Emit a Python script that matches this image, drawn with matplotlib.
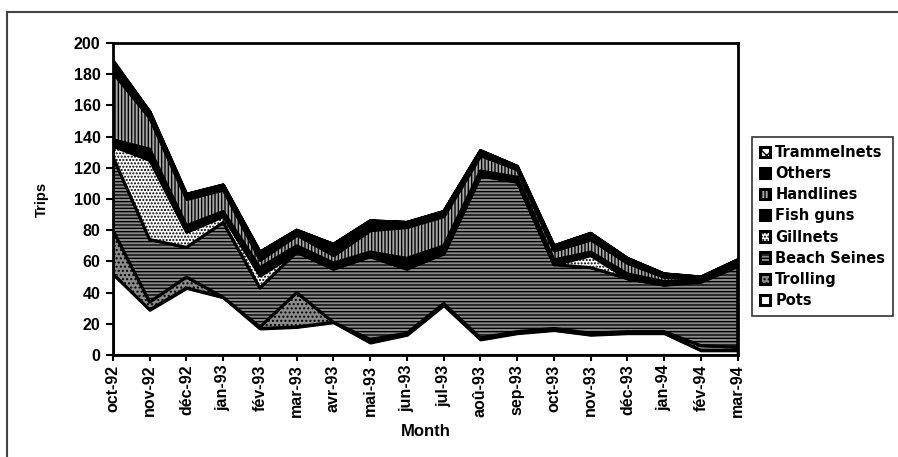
"""Monthly fishing trips by gear type, stacked area chart (oct-92 to mar-94)."""

import matplotlib

matplotlib.use("Agg")
import matplotlib.pyplot as plt
from matplotlib.lines import Line2D
import numpy as np

plt.rcParams["font.family"] = ["Liberation Sans", "DejaVu Sans"]
plt.rcParams["hatch.linewidth"] = 1.0

MONTHS = [
    "oct-92", "nov-92", "déc-92", "jan-93", "fév-93", "mar-93", "avr-93",
    "mai-93", "jun-93", "jul-93", "aoû-93", "sep-93", "oct-93", "nov-93",
    "déc-93", "jan-94", "fév-94", "mar-94",
]

# trips per gear, bottom of the stack first
POTS = [52, 29, 43, 37, 17, 18, 21, 8, 13, 32, 10, 14, 16, 13, 14, 14, 3, 3]
TROLLING = [28, 5, 7, 0, 1, 22, 0, 2, 1, 1, 1, 1, 1, 1, 1, 1, 3, 2]
BEACH_SEINES = [47, 40, 19, 48, 25, 26, 34, 53, 41, 32, 104, 96, 41, 42, 34, 30, 41, 52]
GILLNETS = [7, 51, 10, 4, 8, 0, 1, 1, 1, 0, 0, 0, 0, 8, 0, 0, 0, 0]
FISH_GUNS = [4, 7, 4, 3, 5, 4, 3, 2, 6, 5, 3, 3, 3, 2, 3, 2, 1, 1]
HANDLINES = [43, 20, 17, 14, 5, 7, 5, 14, 20, 19, 10, 5, 6, 8, 7, 3, 1, 1]
OTHERS = [7, 4, 3, 3, 5, 3, 7, 6, 3, 3, 3, 2, 3, 4, 3, 2, 1, 2]
TRAMMELNETS = [1, 0, 0, 0, 0, 0, 0, 0, 0, 0, 0, 0, 0, 0, 0, 0, 0, 0]

LABELS = ["Pots", "Trolling", "Beach Seines", "Gillnets",
          "Fish guns", "Handlines", "Others", "Trammelnets"]
FACES = ["white", "#8c8c8c", "#8a8a8a", "white",
         "black", "#a8a8a8", "black", "white"]
HATCHES = [None, "....", "-----", ".....", None, "|||||", None, "xxx"]


def main() -> None:
    fig = plt.figure(figsize=(8.98, 4.57), dpi=100)
    ax = fig.add_axes([0.1258, 0.2232, 0.6957, 0.6827])

    x = np.arange(len(MONTHS))
    series = [POTS, TROLLING, BEACH_SEINES, GILLNETS,
              FISH_GUNS, HANDLINES, OTHERS, TRAMMELNETS]
    polys = ax.stackplot(x, *series, labels=LABELS, colors=FACES,
                         edgecolor="black", linewidth=2.2)
    for poly, hatch in zip(polys, HATCHES):
        if hatch:
            poly.set_hatch(hatch)

    ax.set_xlim(0, len(MONTHS) - 1)
    ax.set_ylim(0, 200)
    ax.set_yticks(range(0, 201, 20))
    ax.set_xticks(x)
    ax.set_xticklabels(MONTHS, rotation=90, fontsize=11.5, fontweight="bold")
    for lab in ax.get_yticklabels():
        lab.set_fontsize(11.5)
        lab.set_fontweight("bold")
    ax.tick_params(axis="y", length=5, width=1.5, pad=4)
    ax.tick_params(axis="x", length=4, width=1.5, pad=3)
    for spine in ax.spines.values():
        spine.set_linewidth(2)

    ax.set_ylabel("Trips", fontsize=10.5, fontweight="bold", labelpad=18)
    ax.set_xlabel("Month", fontsize=12, fontweight="bold", labelpad=5)

    handles, labels = ax.get_legend_handles_labels()
    leg = fig.legend(handles[::-1], labels[::-1], loc="upper left",
                     bbox_to_anchor=(0.8374, 0.7002), frameon=True,
                     fancybox=False, edgecolor="black", handlelength=0.7,
                     handleheight=0.7, handletextpad=0.35, labelspacing=0.42,
                     borderpad=0.55, borderaxespad=0,
                     prop={"family": "DejaVu Sans", "size": 10.5,
                           "weight": "bold"})
    leg.get_frame().set_linewidth(1.2)

    # outer frame of the scanned figure
    fig.add_artist(Line2D([0.008, 1.0], [0.974, 0.974], color="#444444",
                          lw=1.5, transform=fig.transFigure))
    fig.add_artist(Line2D([0.008, 0.008], [0.0, 0.974], color="#444444",
                          lw=1.5, transform=fig.transFigure))

    fig.savefig("out.png", dpi=100)


if __name__ == "__main__":
    main()
